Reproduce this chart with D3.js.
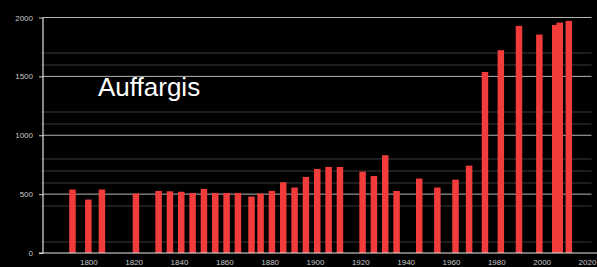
<!DOCTYPE html>
<html>
<head>
<meta charset="utf-8">
<script src="https://cdn.jsdelivr.net/npm/d3@7"></script>
<style>
  html, body { margin: 0; padding: 0; background: #000; }
  .tick text { font-family: "Liberation Sans", Arial, sans-serif; font-size: 8px; fill: #c8c8c8; }
</style>
</head>
<body>
<div class="chart"></div>
<script>
// Census years and population
var years = [1793, 1800, 1806, 1821, 1831, 1836, 1841, 1846, 1851, 1856, 1861, 1866,
             1872, 1876, 1881, 1886, 1891, 1896, 1901, 1906, 1911, 1921, 1926, 1931,
             1936, 1946, 1954, 1962, 1968, 1975, 1982, 1990, 1999, 2006, 2008, 2012];
var population = [539, 454, 539, 505, 527, 524, 520, 510, 544, 510, 510, 510,
                  479, 505, 527, 601, 556, 646, 714, 731, 731, 691, 654, 830,
                  527, 632, 556, 623, 742, 1537, 1722, 1929, 1855, 1937, 1957, 1971];

var xTicks = [1800, 1820, 1840, 1860, 1880, 1900, 1920, 1940, 1960, 1980, 2000, 2020];
var yTicks = [0, 500, 1000, 1500, 2000];
var yMinor = [100, 400, 600, 700, 800, 1100, 1200, 1600, 1700];

var data = years.map(function(y, i) { return { year: y, pop: population[i] }; });

var svgWidth = 597;
var svgHeight = 267;

var margin = { top: 17.5, bottom: 14, right: 5, left: 43 };
var width = svgWidth - margin.left - margin.right;
var height = svgHeight - margin.top - margin.bottom;

var svg = d3.select(".chart")
    .append("svg")
    .attr("width", svgWidth)
    .attr("height", svgHeight)
    .style("display", "block")
    .style("background", "#000");

var chartGroup = svg.append("g")
    .attr("transform", `translate(${margin.left}, ${margin.top})`);

// Scales
var xScale = d3.scaleLinear()
    .domain([1780, 2022])
    .range([0, width - 0.5]);

var yScale = d3.scaleLinear()
    .domain([0, 2000])
    .range([height, 0]);

// Minor gridlines
chartGroup.selectAll(".minor")
    .data(yMinor)
    .enter()
    .append("line")
    .attr("x1", -2)
    .attr("x2", xScale(2022))
    .attr("y1", d => Math.round(yScale(d)) + 0.5)
    .attr("y2", d => Math.round(yScale(d)) + 0.5)
    .attr("stroke", "#3a3a3a")
    .attr("stroke-width", 1);

// Major gridlines
chartGroup.selectAll(".major")
    .data(yTicks.slice(1))
    .enter()
    .append("line")
    .attr("x1", 0)
    .attr("x2", xScale(2022))
    .attr("y1", d => yScale(d))
    .attr("y2", d => yScale(d))
    .attr("stroke", "#b4b4b4")
    .attr("stroke-width", 1);

// Title
chartGroup.append("text")
    .attr("x", 98 - margin.left)
    .attr("y", 96 - margin.top)
    .attr("font-family", "Liberation Sans, Arial, sans-serif")
    .attr("font-size", "26px")
    .attr("fill", "#fff")
    .text("Auffargis");

// Bars
var barW = xScale(1783) - xScale(1780) - 0.3;
chartGroup.selectAll("rect")
    .data(data)
    .enter()
    .append("rect")
    .attr("x", d => xScale(d.year) - barW / 2)
    .attr("y", d => yScale(d.pop))
    .attr("width", barW)
    .attr("height", d => height - yScale(d.pop))
    .attr("fill", "#f23c3c");

// Axes
var leftAxis = d3.axisLeft(yScale)
    .tickValues(yTicks)
    .tickFormat(d3.format("d"))
    .tickSize(4)
    .tickPadding(6);

var bottomAxis = d3.axisBottom(xScale)
    .tickValues(xTicks)
    .tickFormat(d3.format("d"))
    .tickSize(0)
    .tickPadding(6);

var yAxisG = chartGroup.append("g").call(leftAxis);
yAxisG.select(".domain").remove();
yAxisG.selectAll(".tick line").attr("stroke", "#d0d0d0");

var xAxisG = chartGroup.append("g")
    .attr("transform", `translate(0, ${height})`)
    .call(bottomAxis);
xAxisG.select(".domain").remove();

// Axis lines
chartGroup.append("line")
    .attr("x1", 0).attr("x2", 0)
    .attr("y1", yScale(2000)).attr("y2", height)
    .attr("stroke", "#e0e0e0")
    .attr("stroke-width", 1.2);

chartGroup.append("line")
    .attr("x1", -4).attr("x2", svgWidth - margin.left)
    .attr("y1", height).attr("y2", height)
    .attr("stroke", "#e8e8e8")
    .attr("stroke-width", 1.2);
</script>
</body>
</html>
